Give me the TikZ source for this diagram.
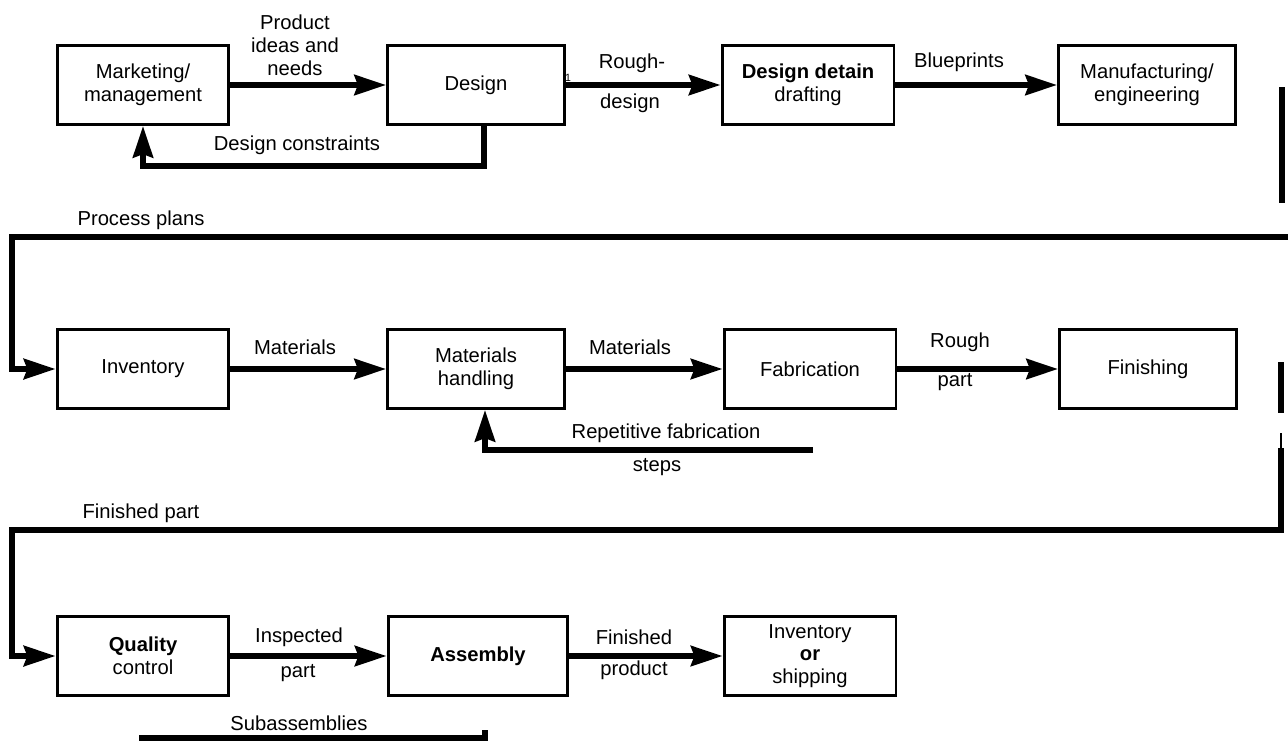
\documentclass[tikz,border=0pt]{standalone}
\usepackage{fontspec}
\setmainfont{Liberation Sans}
\usetikzlibrary{arrows.meta, positioning}
\def \DD {\textbf{Design detain}}
\def \QC {\textbf{Quality}}

\begin{document}
\begin{tikzpicture}[
    x=0.02cm, y=-0.02cm,
    stage/.style={
        rectangle,
        draw=black,
        line width=1.7pt,
        minimum width=#1,
        minimum height=1.58cm,
        inner sep=1pt,
        align=center,
        font=\fontsize{11.5}{13}\selectfont
    },
    stage/.default=3.44cm,
    tag/.style={
        inner sep=0pt,
        align=center,
        font=\fontsize{11.5}{13}\selectfont
    },
    flow/.style={
        -{Stealth[length=18pt, width=11.5pt, inset=2pt]},
        line width=3pt
    },
    wire/.style={
        line width=3.2pt
    }
]
\useasboundingbox (0,0) rectangle (1288,741);

\node[stage] (marketing) at (143,85) {Marketing/\\management};
\node[stage=3.54cm] (design) at (476,85) {Design};
\node[stage] (detail) at (808,85) {\DD\\drafting};
\node[stage=3.54cm] (manufacturing) at (1147,85) {Manufacturing/\\engineering};

\node[stage] (inventory) at (143,369) {Inventory};
\node[stage=3.54cm] (handling) at (476,369) {Materials\\handling};
\node[stage] (fabrication) at (810,369) {Fabrication};
\node[stage=3.54cm] (finishing) at (1148,369) {Finishing};

\node[stage] (quality) at (143,656) {\QC\\control};
\node[stage=3.6cm] (assembly) at (478,656) {\textbf{Assembly}};
\node[stage] (shipping) at (810,656) {Inventory\\\textbf{or}\\shipping};

\node[tag] (ideas) at (295,45) {Product\\ideas and\\needs};
\node[tag] (constraints) at (297,145) {Design constraints};
\node[tag, font=\fontsize{6}{7}\selectfont] (tick) at (568,78) {1};
\node[tag] (roughtop) at (632,63) {Rough-};
\node[tag] (roughbot) at (630,103) {design};
\node[tag] (blueprints) at (959,62) {Blueprints};
\node[tag] (plans) at (141,220) {Process plans};

\node[tag] (matone) at (295,347) {Materials};
\node[tag] (mattwo) at (630,347) {Materials};
\node[tag] (partone) at (960,342) {Rough};
\node[tag] (parttwo) at (955,382) {part};
\node[tag] (repeatone) at (666,433) {Repetitive fabrication};
\node[tag] (repeattwo) at (657,467) {steps};
\node[tag] (finished) at (141,513) {Finished part};

\node[tag] (inspone) at (299,637) {Inspected};
\node[tag] (insptwo) at (298,673) {part};
\node[tag] (prodone) at (634,637) {Finished};
\node[tag] (prodtwo) at (634,670) {product};
\node[tag] (subs) at (299,723) {Subassemblies};

\coordinate (planstop) at (1282,87);
\coordinate (plansbot) at (1282,203);
\coordinate (plansin) at (1288,237);
\coordinate (parttop) at (1281,362);
\coordinate (partmid) at (1281,413);
\coordinate (partthin) at (1281,433);
\coordinate (partin) at (1281,448);
\coordinate (repeatin) at (813,450);
\coordinate (subin) at (139,738);
\coordinate (subend) at (485,738);

\draw[flow] (marketing) -- (design);
\draw[flow] (design) -- (detail);
\draw[flow] (detail) -- (manufacturing);
\draw[flow] ([xshift=0.16cm]design.south) -- ++(0,40) -| (marketing.south);

\draw[wire] (planstop) -- (plansbot);
\draw[flow, line width=3.4pt] (plansin) -- (12,237) |- (inventory.west);

\draw[flow] (inventory) -- (handling);
\draw[flow] (handling) -- (fabrication);
\draw[flow] (fabrication) -- (finishing);
\draw[flow] (repeatin) -| ([xshift=0.18cm]handling.south);

\draw[wire] (parttop) -- (partmid);
\draw[line width=1pt] (partthin) -- (partin);
\draw[flow, line width=3.4pt] (partin) -- (1281,530) -- (12,530) |- (quality.west);

\draw[flow] (quality) -- (assembly);
\draw[flow] (assembly) -- (shipping);
\draw[wire] (subin) -- (subend) -- ++(0,-8);

\end{tikzpicture}
\end{document}
